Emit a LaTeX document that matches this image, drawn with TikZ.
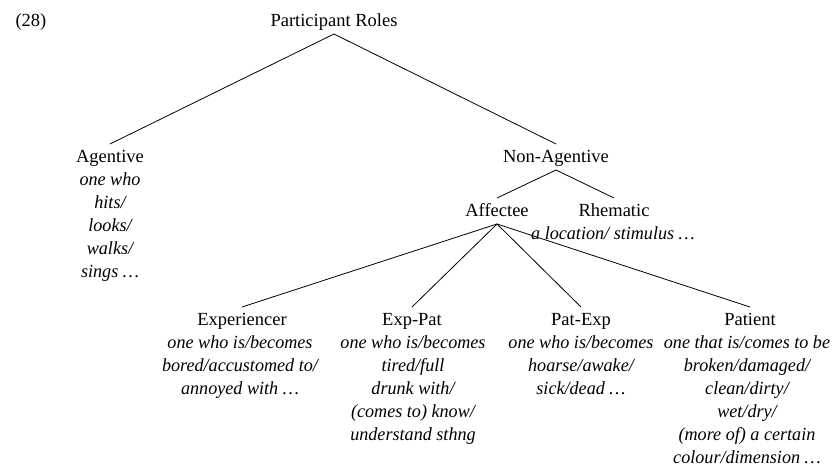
\documentclass[tikz,border=0pt]{standalone}
\usepackage{fontspec}
\setmainfont{Liberation Serif}
\newfontfamily\descfont[FakeStretch=0.98]{Liberation Serif Italic}
\begin{document}
\begin{tikzpicture}[x=1pt,y=-1pt,
  title/.style={anchor=base,inner xsep=1pt,inner ysep=4.5pt,outer sep=0pt,
    text height=13.5pt,text depth=3.5pt,font=\fontsize{18.5}{23}\selectfont},
  desc/.style={anchor=north,inner sep=0pt,outer sep=0pt,align=center,
    font=\fontsize{18.5}{23}\selectfont\descfont},
  edge/.style={draw=black,line width=0.8pt}]
\useasboundingbox (0,0) rectangle (836,466);
\def\st{\rule{0pt}{14pt}}
\node[title] (num) at (31,26) {(28)};
\node[title] (root) at (334,26) {Participant Roles};
\node[title] (agt) at (110,162) {Agentive};
\node[desc] (agtd) at (110,171) {\st one who\\hits/\\looks/\\walks/\\sings \dots};
\node[title] (nagt) at (556,162) {Non-Agentive};
\node[title] (aff) at (497,216) {Affectee};
\node[title] (rhe) at (614,216) {Rhematic};
\node[desc] (rhed) at (613,225) {\st a location/ stimulus \dots};
\node[title] (exp) at (242,325) {Experiencer};
\node[desc] (expd) at (240,334) {\st one who is/becomes\\bored/accustomed to/\\annoyed with \dots};
\node[title] (exppat) at (412,325) {Exp-Pat};
\node[desc] (exppatd) at (413,334) {\st one who is/becomes\\tired/full\\drunk with/\\(comes to) know/\\understand sthng};
\node[title] (patexp) at (581,325) {Pat-Exp};
\node[desc] (patexpd) at (581,334) {\st one who is/becomes\\hoarse/awake/\\sick/dead \dots};
\node[title] (pat) at (750,325) {Patient};
\node[desc] (patd) at (747,334) {\st one that is/comes to be\\broken/damaged/\\clean/dirty/\\wet/dry/\\(more of) a certain\\colour/dimension \dots};
\draw[edge] (root.south) -- (agt.north);
\draw[edge] (root.south) -- (nagt.north);
\draw[edge] (nagt.south) -- (aff.north);
\draw[edge] (nagt.south) -- (rhe.north);
\draw[edge] (aff.south) -- (exp.north);
\draw[edge] (aff.south) -- (exppat.north);
\draw[edge] (aff.south) -- (patexp.north);
\draw[edge] (aff.south) -- (pat.north);
\end{tikzpicture}
\end{document}
